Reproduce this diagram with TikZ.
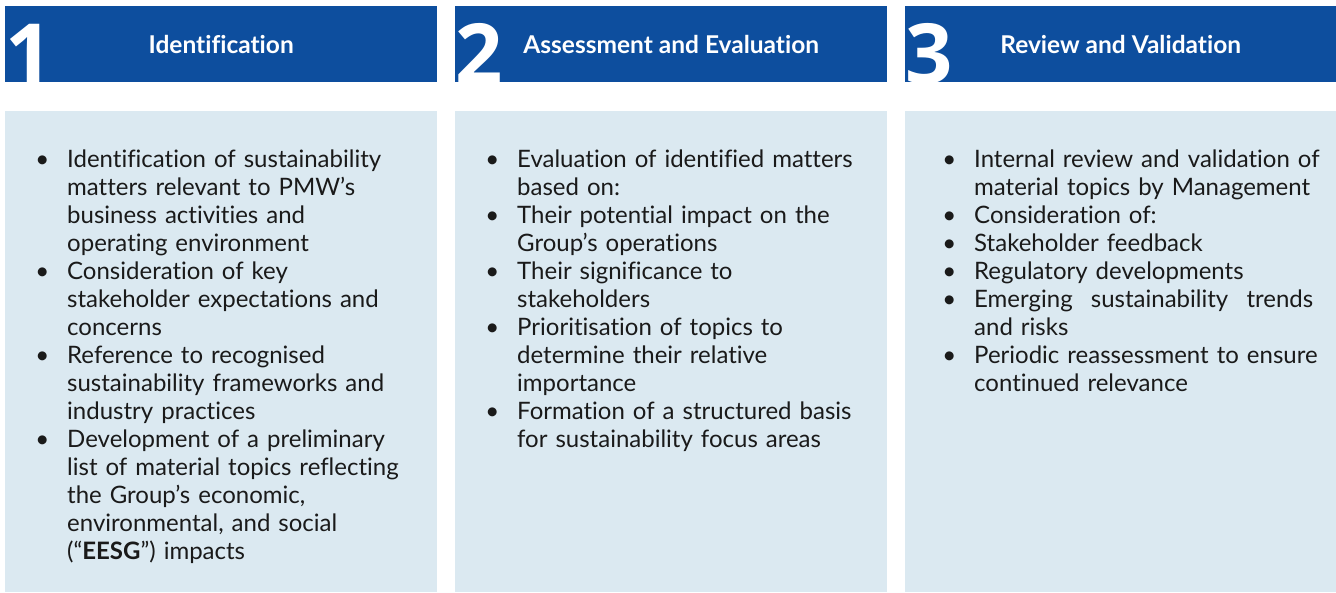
\documentclass[tikz,border=0pt]{standalone}
\usepackage{fontspec}
\setmainfont{Lato}[Ligatures=NoCommon]
\newfontfamily\digitfont{Open Sans}
\usepackage{enumitem}
\usetikzlibrary{positioning}

\definecolor{headblue}{HTML}{0D4E9E}
\definecolor{bodyblue}{HTML}{DBE9F1}
\definecolor{inkblack}{HTML}{1A1A1A}

\newcommand{\bodysize}{\fontsize{24}{28}\selectfont}
\newlist{points}{itemize}{1}
\setlist[points]{label=\textbullet, leftmargin=25pt, labelsep=18pt, labelwidth=7pt,
    align=right, itemsep=0pt, topsep=0pt, partopsep=0pt, parsep=0pt}

\begin{document}
\begin{tikzpicture}[
    x=1pt, y=-1pt,
    head/.style={fill=headblue, minimum height=76pt, inner sep=0pt, anchor=north west},
    panel/.style={fill=bodyblue, minimum height=481pt, inner sep=0pt, anchor=north west},
    digit/.style={text=white, font=\digitfont\fontsize{83}{83}\selectfont\bfseries, inner sep=0pt, anchor=base west},
    title/.style={text=white, font=\fontsize{24.5}{26}\selectfont\bfseries, inner sep=0pt},
    points/.style={text=inkblack, font=\bodysize, inner sep=0pt, anchor=north west, text width=385pt, align=left},
]
    \useasboundingbox (0,0) rectangle (1336,592);
    % header bars and panels
    \foreach \i/\x/\w/\title in {1/5/432/Identification, 2/455/432/Assessment and Evaluation, 3/905/431/Review and Validation} {
        \node[head, minimum width=\w pt] (h\i) at (\x,6) {};
        \node[panel, minimum width=\w pt] (p\i) at (\x,111) {};
        \begin{scope}
            \clip (h\i.north west) rectangle (h\i.south east);
            \node[digit] (n\i) at ([yshift=-1pt]h\i.south west) {\i};
        \end{scope}
        \node[title] (t\i) at (h\i.center) {\title};
    }
    % bullet lists
    \node[points] (l1) at (42,139) {%
        \begin{points}
        \item Identification of sustainability\newline matters relevant to PMW’s\newline business activities and\newline operating environment
        \item Consideration of key\newline stakeholder expectations and\newline concerns
        \item Reference to recognised\newline sustainability frameworks and\newline industry practices
        \item Development of a preliminary\newline list of material topics reflecting\newline the Group’s economic,\newline environmental, and social\newline (“\textbf{EESG}”) impacts
        \end{points}};
    \node[points] (l2) at (492,139) {%
        \begin{points}
        \item Evaluation of identified matters\newline based on:
        \item Their potential impact on the\newline Group’s operations
        \item Their significance to\newline stakeholders
        \item Prioritisation of topics to\newline determine their relative\newline importance
        \item Formation of a structured basis\newline for sustainability focus areas
        \end{points}};
    \node[points, text width=410pt] (l3) at (949,139) {%
        \begin{points}
        \item Internal review and validation of\newline material topics by Management
        \item Consideration of:
        \item Stakeholder feedback
        \item Regulatory developments
        \item \makebox[339pt][l]{Emerging\hfill sustainability\hfill trends}\newline and risks
        \item Periodic reassessment to ensure\newline continued relevance
        \end{points}};
\end{tikzpicture}
\end{document}
